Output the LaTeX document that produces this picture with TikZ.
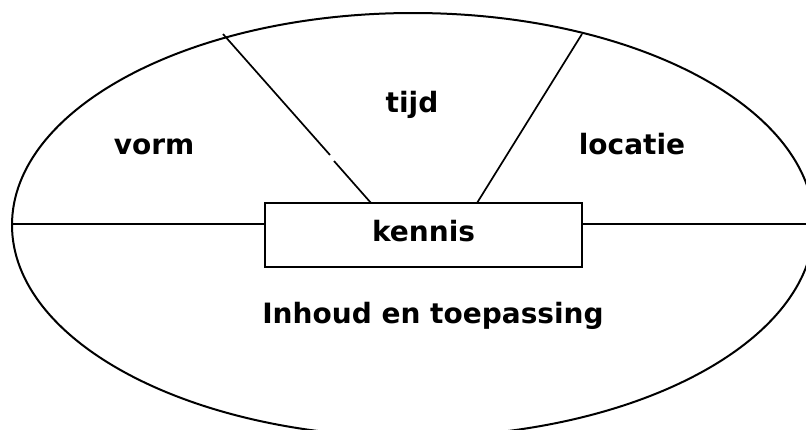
\documentclass[tikz,border=0pt]{standalone}
\usepackage{fontspec}
\setmainfont{DejaVu Sans}
\begin{document}
\begin{tikzpicture}[x=1pt,y=-1pt,
  lbl/.style={font=\fontsize{28}{30}\selectfont\bfseries, inner sep=0pt, anchor=base},
  kbox/.style={draw, line width=1.9pt, minimum width=317pt, minimum height=64pt, inner sep=0pt},
  edge/.style={line width=1.7pt},
  rim/.style={line width=2pt}]
\useasboundingbox (0,0) rectangle (806,429);
\clip (0,0) rectangle (806,429);
\fill[white] (0,0) rectangle (806,429);
% outer ellipse
\draw[rim] (413,225) ellipse [x radius=401, y radius=212];
% named points
\coordinate (lefte) at (12,224);
\coordinate (righte) at (814,224);
\coordinate (lt) at (223,34);
\coordinate (lg1) at (330,155);
\coordinate (lg2) at (334,161);
\coordinate (rt) at (582,34);
% central box
\node[kbox] (box) at (423.5,235) {};
\coordinate (lb) at (371,203);
\coordinate (rb) at (477,203);
% connectors
\draw[edge] (lefte) -- (box.west|-lefte);
\draw[edge] (box.east|-righte) -- (righte);
\draw[edge] (lt) -- (lg1);
\draw[edge] (lg2) -- (lb);
\draw[edge] (rt) -- (rb);
% labels
\node[lbl] (kennis) at (423.5,241) {kennis};
\node[lbl] (tijd) at (412,112) {tijd};
\node[lbl] (vorm) at (154,154) {vorm};
\node[lbl] (locatie) at (632,154) {locatie};
\node[lbl] (inhoud) at (433,323) {Inhoud en toepassing};
\end{tikzpicture}
\end{document}
